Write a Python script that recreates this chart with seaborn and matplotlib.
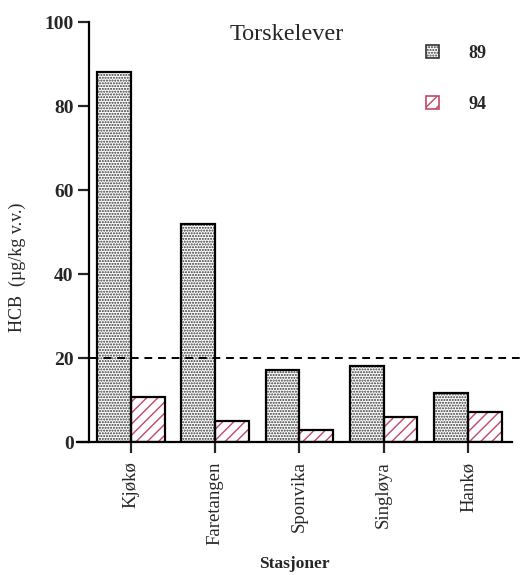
import pandas as pd
import matplotlib.pyplot as plt
import matplotlib.patches as mpatches
import seaborn as sns

stations = ['Kjøkø', 'Faretangen', 'Sponvika', 'Singløya', 'Hankø']
hcb_89 = [88.0, 51.8, 17.1, 18.1, 11.7]
hcb_94 = [10.8, 5.0, 2.9, 6.0, 7.2]
years = ['89', '94']
limit_value = 20

df = pd.DataFrame({
    'station': stations * 2,
    'year': [years[0]] * len(stations) + [years[1]] * len(stations),
    'hcb': hcb_89 + hcb_94,
})

sns.set_style('white')
plt.rcParams['font.family'] = ['Liberation Serif', 'DejaVu Serif']
plt.rcParams['hatch.linewidth'] = 1.0

fig = plt.figure(figsize=(5.22, 5.75), dpi=100)
ax = fig.add_axes([0.1475, 0.2313, 0.833, 0.7304])

sns.barplot(data=df, x='station', y='hcb', hue='year', palette=['white', 'white'],
            width=0.8, ax=ax, legend=False, saturation=1)

hatch_style = {'89': ('......', '#333333'), '94': ('///', '#c2476a')}
n = len(stations)
for i, bar in enumerate(ax.patches[:2 * n]):
    yr = years[i // n]
    h, c = hatch_style[yr]
    bar.set_hatch(h)
    bar.set_edgecolor(c)
    bar.set_linewidth(0)
    outline = mpatches.Rectangle(bar.get_xy(), bar.get_width(), bar.get_height(),
                                 fill=False, edgecolor='black', linewidth=1.6, zorder=3)
    ax.add_patch(outline)

ax.axhline(limit_value, xmin=0.03, xmax=1.03, color='black', linestyle=(0, (4, 3)),
           linewidth=1.4, clip_on=False, zorder=4)

ax.set_xlim(-0.64, 4.52)
ax.set_ylim(0, 100)
ax.set_yticks([0, 20, 40, 60, 80, 100])
sns.despine(ax=ax)
ax.spines['left'].set_position(('data', -0.5))
ax.spines['left'].set_linewidth(1.6)
ax.spines['bottom'].set_linewidth(1.6)
ax.spines['left'].set_color('black')
ax.spines['bottom'].set_color('black')

ax.tick_params(axis='y', direction='out', length=8, width=1.6, labelsize=14, pad=3, left=True)
ax.tick_params(axis='x', direction='out', length=8, width=1.6, labelsize=13.5, pad=6, bottom=True)
for lbl in ax.get_yticklabels():
    lbl.set_fontweight('bold')
plt.setp(ax.get_xticklabels(), rotation=90)

ax.set_xlabel('Stasjoner', fontsize=12.5, fontweight='bold', labelpad=8)
ax.set_ylabel('HCB  (µg/kg v.v.)', fontsize=13)
ax.yaxis.set_label_coords(-0.117, 0.417)

ax.text(0.483, 0.97, 'Torskelever', transform=ax.transAxes, fontsize=17.5,
        ha='center', va='center')

leg_handles = [
    mpatches.Patch(facecolor='white', edgecolor='#333333', hatch='......', label=years[0]),
    mpatches.Patch(facecolor='white', edgecolor='#c2476a', hatch='///', label=years[1]),
]
leg = ax.legend(handles=leg_handles, loc='upper left', bbox_to_anchor=(0.765, 0.985),
                frameon=False, prop={'size': 13, 'weight': 'bold'},
                handlelength=0.75, handleheight=0.75, handletextpad=1.6, labelspacing=1.9)
for p in leg.get_patches():
    p.set_linewidth(1.2)

fig.savefig('out.png', dpi=100)
